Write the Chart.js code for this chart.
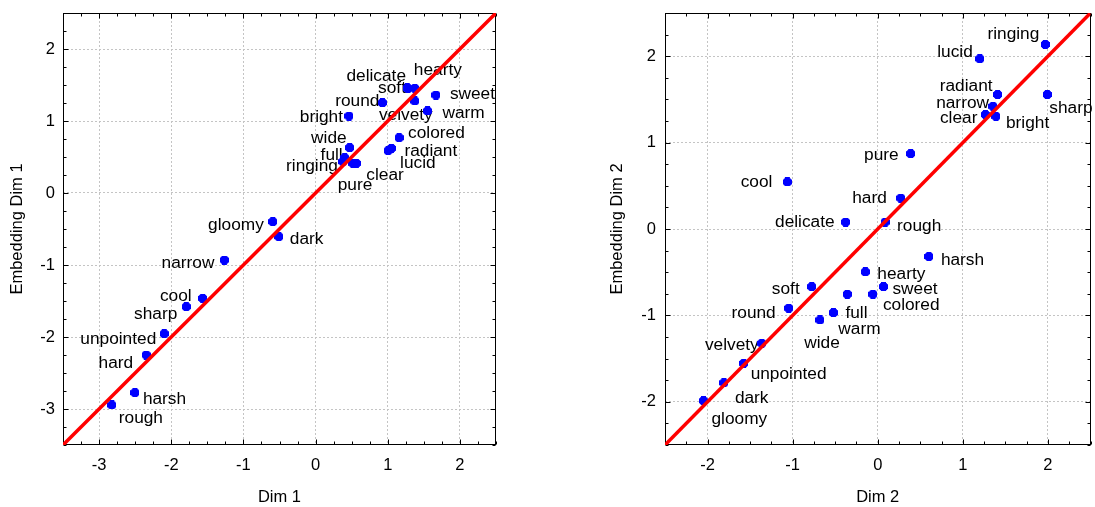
<!DOCTYPE html>
<html><head><meta charset="utf-8">
<script src="https://cdn.jsdelivr.net/npm/chart.js@4/dist/chart.umd.min.js"></script>
<style>
html,body{margin:0;padding:0;background:#fff;overflow:hidden;width:1095px;height:507px;}
#c1{position:absolute;left:0;top:0;}
#c2{position:absolute;left:560px;top:0;}
</style></head><body>
<canvas id="c1" width="540" height="507"></canvas>
<canvas id="c2" width="536" height="507"></canvas>
<script>
// ---- data ----
const terms = ['delicate','soft','hearty','sweet','velvety','round','warm','bright','colored','radiant','lucid','wide','full','ringing','pure','clear','gloomy','dark','narrow','cool','sharp','unpointed','hard','harsh','rough'];
const dim1    = [1.27, 1.28, 1.375, 1.667, 1.375, 0.926, 1.551, 0.463, 1.157, 1.051, 1.005, 0.472, 0.403, 0.379, 0.518, 0.565, -0.593, -0.509, -1.264, -1.565, -1.792, -2.097, -2.347, -2.504, -2.824];
const embDim1 = [1.46, 1.45, 1.454, 1.361, 1.278, 1.254, 1.139, 1.069, 0.768, 0.62, 0.588, 0.63, 0.49, 0.435, 0.412, 0.412, -0.398, -0.606, -0.931, -1.463, -1.579, -1.954, -2.25, -2.773, -2.944];
const dim2    = [-0.378, -0.776, -0.146, 0.067, -1.363, -1.046, -0.358, 1.389, -0.057, 1.408, 1.199, -0.679, -0.521, 1.969, 0.387, 1.265, -2.048, -1.808, 1.354, -1.062, 1.992, -1.576, 0.271, 0.601, 0.086];
const embDim2 = [0.08, -0.667, -0.496, -0.667, -1.323, -0.917, -0.755, 1.304, -0.755, 1.556, 1.97, -1.053, -0.968, 2.136, 0.872, 1.324, -1.988, -1.780, 1.420, 0.544, 1.556, -1.555, 0.358, -0.319, 0.08];
const ticks1 = [-3, -2, -1, 0, 1, 2];
const ticks2 = [-2, -1, 0, 1, 2];
const range1 = [-3.5, 2.5];
const range2 = [-2.5, 2.5];
const fitLine1 = [-3.5, 2.5];   // y = x reference line ends
const fitLine2 = [-2.5, 2.5];

// ---- label placement (layout only): [align, dx, dy] ----
const labelPos1 = [['c',-31,-12],['r',-2,0],['c',23,-18],['l',14,-1],['c',-9,14],['r',-3,-1],['l',15,2],['r',-6,1],['l',9,-4],['l',13,3],['l',12,13],['r',-3,-9],['r',-2,-2],['r',-5,5],['c',2,22],['l',10,12],['r',-9,4],['l',11,3],['r',-10,3],['r',-11,-2],['r',-9,8],['r',-8,6],['r',-13,8],['l',8,7],['l',7,13]];
const labelPos2 = [['r',-11,0],['r',-12,3],['l',12,2],['l',9,3],['r',-3,2],['r',-13,5],['l',-9,35],['l',10,7],['l',10,11],['r',-5,-8],['r',-7,-7],['c',2,23],['l',12,1],['r',-6,-10],['r',-12,2],['r',-8,4],['l',8,18],['l',11,15],['r',-4,-3],['r',-15,0],['l',2,14],['l',7,11],['r',-14,0],['l',12,4],['l',12,4]];

const FONT = '"Liberation Sans", Arial, sans-serif';
Chart.defaults.font.family = FONT;

function makeMarker(){
  const c = document.createElement('canvas'); c.width = 9; c.height = 9;
  const g = c.getContext('2d'); g.fillStyle = '#0000ff';
  g.fillRect(2,0,5,9); g.fillRect(0,2,9,5);
  g.fillRect(1,1,1,1); g.fillRect(7,1,1,1); g.fillRect(1,7,1,1); g.fillRect(7,7,1,1);
  return c;
}
const marker = makeMarker();

const framePlugin = {
  id: 'frame',
  beforeDatasetsDraw(chart, args, opts){
    const {ctx, chartArea: a, scales: {x, y}} = chart;
    ctx.save();
    ctx.strokeStyle = '#000'; ctx.lineWidth = 1;
    const L = Math.round(a.left)+0.5, R = Math.round(a.right)-0.5, T = Math.round(a.top)+0.5, B = Math.round(a.bottom)-0.5;
    ctx.strokeRect(L, T, R-L, B-T);
    ctx.beginPath();
    const step = opts.step;
    for (let v = x.min; v <= x.max + 1e-9; v += step){
      const px = Math.round(x.getPixelForValue(v)) + 0.5;
      const len = Math.abs(v - Math.round(v)) < 1e-6 ? 5 : 3;
      ctx.moveTo(px, B); ctx.lineTo(px, B - len);
      ctx.moveTo(px, T); ctx.lineTo(px, T + len);
    }
    for (let v = y.min; v <= y.max + 1e-9; v += step){
      const py = Math.round(y.getPixelForValue(v)) + 0.5;
      const len = Math.abs(v - Math.round(v)) < 1e-6 ? 5 : 3;
      ctx.moveTo(L, py); ctx.lineTo(L + len, py);
      ctx.moveTo(R, py); ctx.lineTo(R - len, py);
    }
    ctx.stroke();
    ctx.restore();
  }
};

const labelPlugin = {
  id: 'termLabels',
  beforeDatasetsDraw(chart, args, opts){
    const meta = chart.getDatasetMeta(1);
    const ctx = chart.ctx;
    ctx.save();
    ctx.font = '17.3px ' + FONT; ctx.fillStyle = '#000'; ctx.textBaseline = 'middle';
    meta.data.forEach((el, i) => {
      const [al, dx, dy] = opts.layout[i];
      ctx.textAlign = al === 'l' ? 'left' : al === 'r' ? 'right' : 'center';
      ctx.fillText(terms[i], el.x + dx, el.y + dy);
    });
    ctx.restore();
  }
};

function makeChart(id, xs, ys, layout, range, tickVals, fit, xTitle, yTitle, yWidth, yTitlePad, rightPad, yTickPad){
  const pts = xs.map((v, i) => ({x: v, y: ys[i]}));
  const axisCommon = (tv) => ({
    type: 'linear', min: range[0], max: range[1],
    afterBuildTicks: s => { s.ticks = tv.map(v => ({value: v})); },
    grid: {color: '#c4c4c4', drawTicks: false, lineWidth: 1},
    border: {display: false, dash: [2, 2]},
  });
  new Chart(document.getElementById(id), {
    type: 'scatter',
    data: { datasets: [
      { type: 'line', data: fit.map(v => ({x: v, y: v})), borderColor: '#ff0000', borderWidth: 3.5, pointRadius: 0, fill: false },
      { data: pts, pointStyle: marker, pointRadius: 4.5, backgroundColor: '#0000ff', borderColor: '#0000ff' }
    ]},
    options: {
      responsive: false, animation: false, events: [],
      layout: {padding: {left: 0, top: 13, right: rightPad, bottom: 0}},
      plugins: { legend: {display: false}, tooltip: {enabled: false},
        frame: {step: 0.25}, termLabels: {layout: layout} },
      scales: {
        x: Object.assign(axisCommon(tickVals), {
          position: 'bottom',
          afterFit: s => { s.height = 62; s.paddingLeft = 0; s.paddingRight = 0; s.paddingTop = 0; s.paddingBottom = 0; },
          ticks: {color: '#000', font: {size: 16.5}, padding: 11, maxRotation: 0, callback: v => String(v)},
          title: {display: true, text: xTitle, color: '#000', font: {size: 16.5}, padding: {top: 0, bottom: 0}}
        }),
        y: Object.assign(axisCommon(tickVals), {
          position: 'left',
          afterFit: s => { s.width = yWidth; s.paddingTop = 0; s.paddingBottom = 0; s.paddingLeft = 0; s.paddingRight = 0; },
          ticks: {color: '#000', font: {size: 16.5}, padding: yTickPad, callback: v => String(v)},
          title: {display: true, text: yTitle, color: '#000', font: {size: 16.5}, padding: {top: yTitlePad, bottom: 0}}
        })
      }
    },
    plugins: [framePlugin, labelPlugin]
  });
}

makeChart('c1', dim1, embDim1, labelPos1, range1, ticks1, fitLine1, 'Dim 1', 'Embedding Dim 1', 63, 8, 44, 8);
makeChart('c2', dim2, embDim2, labelPos2, range2, ticks2, fitLine2, 'Dim 2', 'Embedding Dim 2', 105, 48, 0, 9);
</script>
</body></html>
